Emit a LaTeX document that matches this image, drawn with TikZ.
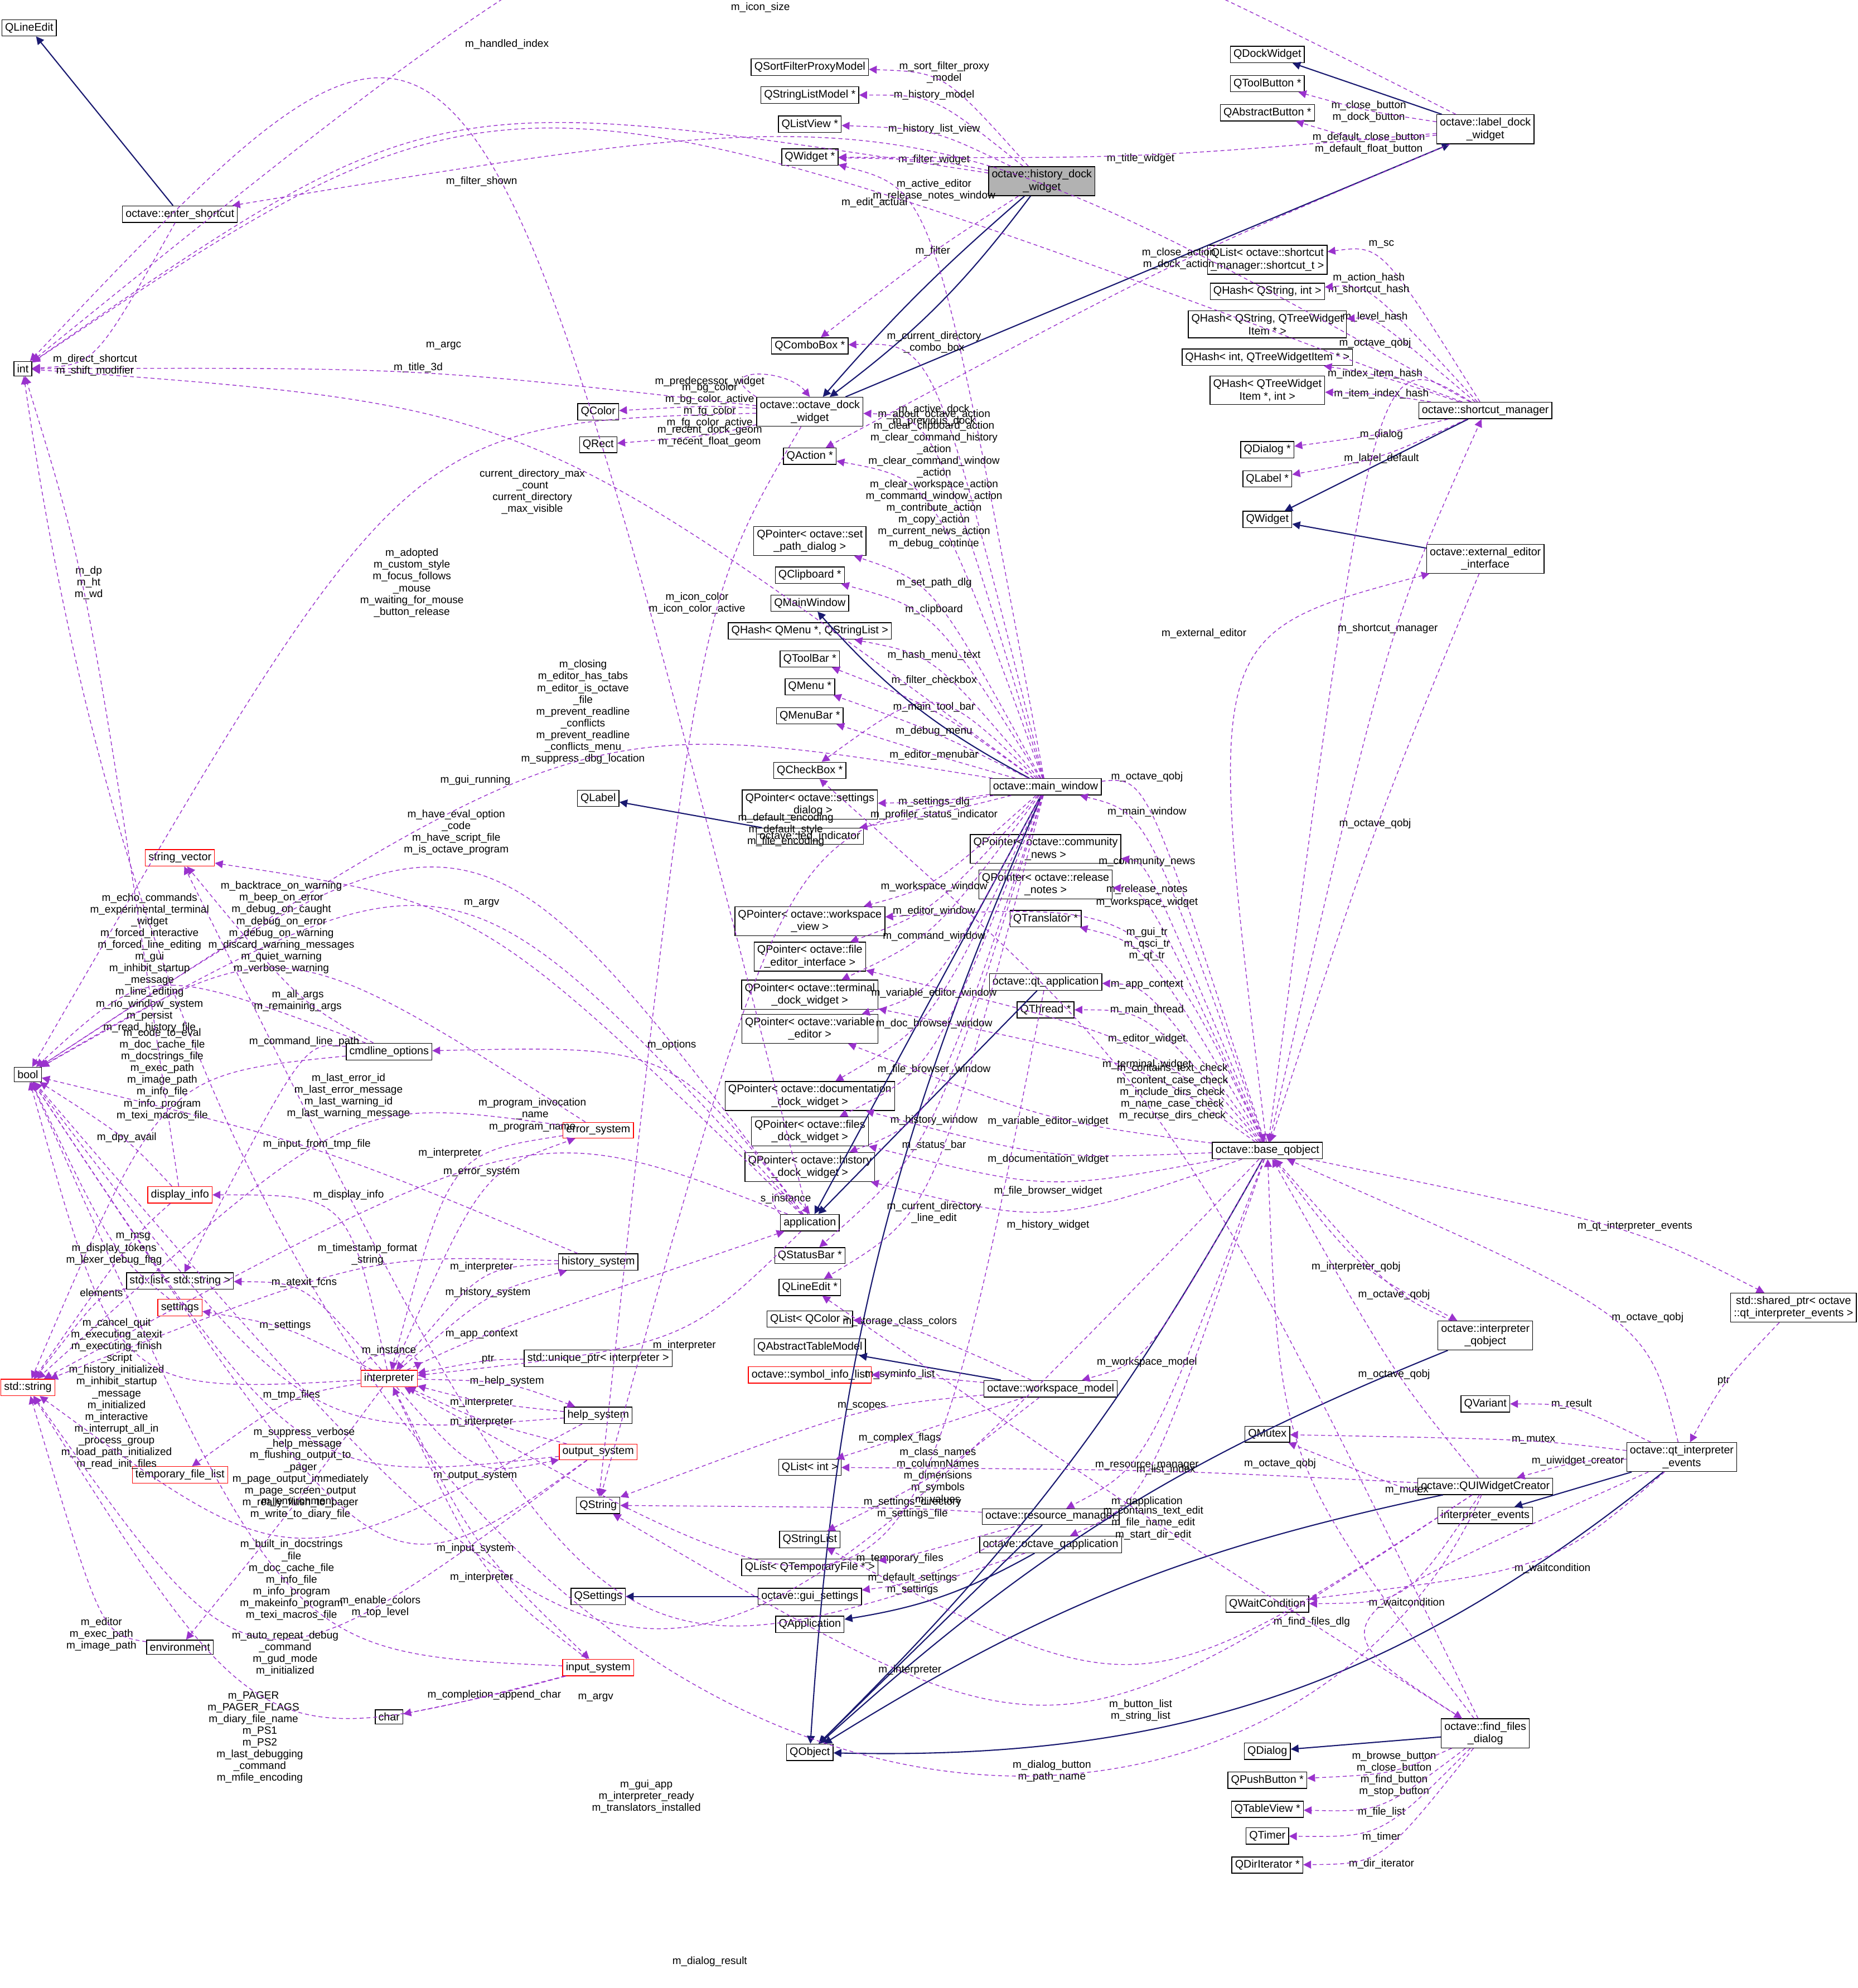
\documentclass[tikz,border=0pt]{standalone}
\usepackage{fontspec}
\setmainfont{Liberation Sans}
\usetikzlibrary{calc,arrows.meta}
\newcommand\nf{\fontsize{5.6}{6.4}\selectfont}
\newcommand\lf{\fontsize{5.4}{6.0}\selectfont}
\definecolor{dk}{HTML}{191970}
\definecolor{pu}{HTML}{9A32CD}
\tikzset{
 cls/.style={draw=black,line width=0.4pt,inner sep=1.6pt,font=\nf,align=center,fill=white},
 rcls/.style={cls,draw=red},
 fcls/.style={cls,fill=gray!60},
 inh/.style={draw=dk,line width=0.6pt,-{Triangle[length=4pt,width=4pt]}},
 dep/.style={draw=pu,dashed,dash pattern=on 2pt off 1.5pt,line width=0.4pt,-{Triangle[length=4pt,width=4pt]}},
 lbl/.style={font=\lf,align=center,inner sep=0pt}
}
\newcommand\dep[4]{\node[lbl] at (#3) {#4};
 \draw[dep] (#1) .. controls (#3) and (#3) .. (#2);}
\newcommand\depq[4]{\node[lbl] at (#3) {#4};
 \draw[dep] (#1) .. controls ($2*(#3)-0.5*(#1)-0.5*(#2)$) .. (#2);}
\begin{document}
\begin{tikzpicture}[x=0.02272cm,y=-0.02272cm]
\useasboundingbox (0,0) rectangle (1466,1569);
% nodes
\node[cls] (QLineEdit) at (23,22) {QLineEdit};
\node[cls] (int) at (18,291) {int};
\node[cls] (bool) at (22,848) {bool};
\node[rcls] (stdstring) at (22,1095) {std::string};
\node[cls] (QSFPM) at (639,53) {QSortFilterProxyModel};
\node[cls] (QSLM) at (639,75) {QStringListModel *};
\node[cls] (QListView) at (639,98) {QListView *};
\node[cls] (QWidgetP) at (639,124) {QWidget *};
\node[fcls] (hdw) at (822,143) {octave::history\_dock\\\_widget};
\node[cls] (enter) at (142,169) {octave::enter\_shortcut};
\node[cls] (QDockWidget) at (1000,43) {QDockWidget};
\node[cls] (QToolButton) at (1000,66) {QToolButton *};
\node[cls] (QAbstractButton) at (1000,89) {QAbstractButton *};
\node[cls] (ldw) at (1172,102) {octave::label\_dock\\\_widget};
\node[cls] (QListSC) at (1000,205) {QList< octave::shortcut\\\_manager::shortcut\_t >};
\node[cls] (QHashSI) at (1000,230) {QHash< QString, int >};
\node[cls] (QHashST) at (1000,256) {QHash< QString, QTreeWidget\\Item * >};
\node[cls] (QHashIT) at (1000,282) {QHash< int, QTreeWidgetItem * >};
\node[cls] (QHashTI) at (1000,308) {QHash< QTreeWidget\\Item *, int >};
\node[cls] (QDialogP) at (1000,355) {QDialog *};
\node[cls] (QLabelP) at (1000,378) {QLabel *};
\node[cls] (QWidget) at (1000,410) {QWidget};
\node[cls] (scm) at (1172,324) {octave::shortcut\_manager};
\node[cls] (eei) at (1172,441) {octave::external\_editor\\\_interface};
\node[cls] (QComboBox) at (639,273) {QComboBox *};
\node[cls] (odw) at (639,325) {octave::octave\_dock\\\_widget};
\node[cls] (QColor) at (472,325) {QColor};
\node[cls] (QRect) at (472,351) {QRect};
\node[cls] (QAction) at (639,360) {QAction *};
\node[cls] (QPspd) at (639,427) {QPointer< octave::set\\\_path\_dialog >};
\node[cls] (QClipboard) at (639,454) {QClipboard *};
\node[cls] (QMainWindow) at (639,476) {QMainWindow};
\node[cls] (QHashMenu) at (639,498) {QHash< QMenu *, QStringList >};
\node[cls] (QToolBar) at (639,520) {QToolBar *};
\node[cls] (QMenu) at (639,542) {QMenu *};
\node[cls] (QMenuBar) at (639,565) {QMenuBar *};
\node[cls] (QCheckBox) at (639,608) {QCheckBox *};
\node[cls] (QPsd) at (639,635) {QPointer< octave::settings\\\_dialog >};
\node[cls] (QLabel) at (472,630) {QLabel};
\node[cls] (led) at (639,660) {octave::led\_indicator};
\node[cls] (mw) at (825,621) {octave::main\_window};
\node[cls] (QPcn) at (825,670) {QPointer< octave::community\\\_news >};
\node[cls] (QPrn) at (825,698) {QPointer< octave::release\\\_notes >};
\node[cls] (QTranslator) at (825,725) {QTranslator *};
\node[cls] (qtapp) at (825,775) {octave::qt\_application};
\node[cls] (QThread) at (825,797) {QThread *};
\node[cls] (QPwv) at (639,727) {QPointer< octave::workspace\\\_view >};
\node[cls] (QPfe) at (639,755) {QPointer< octave::file\\\_editor\_interface >};
\node[cls] (QPtd) at (639,785) {QPointer< octave::terminal\\\_dock\_widget >};
\node[cls] (QPve) at (639,812) {QPointer< octave::variable\\\_editor >};
\node[cls] (QPdd) at (639,865) {QPointer< octave::documentation\\\_dock\_widget >};
\node[cls] (QPfd) at (639,893) {QPointer< octave::files\\\_dock\_widget >};
\node[cls] (QPhd) at (639,921) {QPointer< octave::history\\\_dock\_widget >};
\node[cls] (app) at (639,965) {application};
\node[cls] (QStatusBar) at (639,991) {QStatusBar *};
\node[cls] (QLineEditP) at (639,1016) {QLineEdit *};
\node[cls] (QListColor) at (639,1041) {QList< QColor >};
\node[cls] (QATM) at (639,1063) {QAbstractTableModel};
\node[rcls] (sil) at (639,1085) {octave::symbol\_info\_list};
\node[cls] (QListInt) at (639,1158) {QList< int >};
\node[cls] (QString) at (472,1188) {QString};
\node[cls] (QStringList) at (639,1215) {QStringList};
\node[cls] (QListTF) at (639,1237) {QList< QTemporaryFile * >};
\node[cls] (gs) at (639,1260) {octave::gui\_settings};
\node[cls] (QSettings) at (472,1260) {QSettings};
\node[cls] (QApplication) at (639,1282) {QApplication};
\node[cls] (QObject) at (639,1383) {QObject};
\node[cls] (bq) at (1000,908) {octave::base\_qobject};
\node[cls] (wm) at (829,1096) {octave::workspace\_model};
\node[cls] (rm) at (829,1197) {octave::resource\_manager};
\node[cls] (oqa) at (829,1219) {octave::octave\_qapplication};
\node[cls] (iq) at (1172,1054) {octave::interpreter\\\_qobject};
\node[cls,anchor=east] (sp) at (1465,1032) {std::shared\_ptr< octave\\::qt\_interpreter\_events >};
\node[cls] (QVariant) at (1172,1108) {QVariant};
\node[cls] (QMutex) at (1000,1132) {QMutex};
\node[cls] (qie) at (1327,1150) {octave::qt\_interpreter\\\_events};
\node[cls] (quiw) at (1172,1173) {octave::QUIWidgetCreator};
\node[cls] (ie) at (1172,1196) {interpreter\_events};
\node[cls] (QWait) at (1000,1266) {QWaitCondition};
\node[cls] (ffd) at (1172,1368) {octave::find\_files\\\_dialog};
\node[cls] (QDialog) at (1000,1382) {QDialog};
\node[cls] (QPushButton) at (1000,1405) {QPushButton *};
\node[cls] (QTableView) at (1000,1428) {QTableView *};
\node[cls] (QTimer) at (1000,1449) {QTimer};
\node[cls] (QDirIt) at (1000,1472) {QDirIterator *};
\node[rcls] (sv) at (142,677) {string\_vector};
\node[cls] (clo) at (307,830) {cmdline\_options};
\node[rcls] (es) at (472,892) {error\_system};
\node[rcls] (di) at (142,943) {display\_info};
\node[cls] (hs) at (472,996) {history\_system};
\node[cls] (sl) at (142,1011) {std::list< std::string >};
\node[rcls] (set) at (142,1032) {settings};
\node[rcls] (interp) at (307,1088) {interpreter};
\node[cls] (up) at (472,1072) {std::unique\_ptr< interpreter >};
\node[cls] (help) at (472,1117) {help\_system};
\node[rcls] (os) at (472,1146) {output\_system};
\node[rcls] (tfl) at (142,1164) {temporary\_file\_list};
\node[cls] (env) at (142,1300) {environment};
\node[rcls] (is) at (472,1316) {input\_system};
\node[cls] (char) at (307,1355) {char};
% inheritance
\draw[inh] (ldw) -- (QDockWidget);
\draw[inh] (odw) -- (ldw);
\draw[inh] (hdw) to[bend left=8] (odw);
\draw[inh] (hdw) to[bend right=4] (odw);
\draw[inh] (enter) -- (QLineEdit);
\draw[inh] (scm) -- (QWidget);
\draw[inh] (eei) -- (QWidget);
\draw[inh] (mw) to[bend left=10] (QMainWindow);
\draw[inh] (led) -- (QLabel);
\draw[inh] (mw) -- (app);
\draw[inh] (qtapp) -- (app);
\draw[inh] (mw) to[bend right=10] (QObject);
\draw[inh] (bq) to[bend left=8] (QObject);
\draw[inh] (wm) -- (QATM);
\draw[inh] (gs) -- (QSettings);
\draw[inh] (oqa) to[bend left=10] (QApplication);
\draw[inh] (rm) -- (QObject);
\draw[inh] (quiw) to[bend right=10] (QObject);
\draw[inh] (iq) to[bend right=10] (QObject);
\draw[inh] (qie) -- (ie);
\draw[inh] (qie) to[bend left=20] (QObject);
\draw[inh] (ffd) -- (QDialog);
% dependencies
\dep{hdw}{QSFPM}{745,57}{m\_sort\_filter\_proxy\\\_model}
\dep{hdw}{QSLM}{737,75}{m\_history\_model}
\dep{hdw}{QListView}{737,102}{m\_history\_list\_view}
\dep{hdw}{QWidgetP}{737,126}{m\_filter\_widget}
\dep{hdw}{QComboBox}{736,198}{m\_filter}
\depq{hdw}{int}{380,143}{m\_filter\_shown}
\dep{mw}{QWidgetP}{737,150}{m\_active\_editor\\m\_release\_notes\_window}
\dep{mw}{QComboBox}{737,270}{m\_current\_directory\\\_combo\_box}
\dep{mw}{odw}{737,328}{m\_active\_dock\\m\_previous\_dock}
\dep{mw}{QAction}{737,378}{m\_about\_octave\_action\\m\_clear\_clipboard\_action\\m\_clear\_command\_history\\\_action\\m\_clear\_command\_window\\\_action\\m\_clear\_workspace\_action\\m\_command\_window\_action\\m\_contribute\_action\\m\_copy\_action\\m\_current\_news\_action\\m\_debug\_continue}
\dep{mw}{QPspd}{737,460}{m\_set\_path\_dlg}
\dep{mw}{QClipboard}{737,481}{m\_clipboard}
\dep{mw}{QHashMenu}{737,517}{m\_hash\_menu\_text}
\dep{mw}{QToolBar}{737,558}{m\_main\_tool\_bar}
\dep{mw}{QMenu}{737,577}{m\_debug\_menu}
\dep{mw}{QMenuBar}{737,596}{m\_editor\_menubar}
\dep{mw}{QCheckBox}{737,537}{m\_filter\_checkbox}
\dep{mw}{QPsd}{737,633}{m\_settings\_dlg}
\dep{mw}{led}{737,643}{m\_profiler\_status\_indicator}
\dep{mw}{QPwv}{737,700}{m\_workspace\_window}
\dep{mw}{QPfe}{737,719}{m\_editor\_window}
\dep{mw}{QPtd}{737,739}{m\_command\_window}
\dep{mw}{QPve}{737,784}{m\_variable\_editor\_window}
\dep{mw}{QPdd}{737,808}{m\_doc\_browser\_window}
\dep{mw}{QPfd}{737,844}{m\_file\_browser\_window}
\dep{mw}{QPhd}{737,884}{m\_history\_window}
\dep{mw}{QStatusBar}{737,904}{m\_status\_bar}
\dep{mw}{QLineEditP}{737,957}{m\_current\_directory\\\_line\_edit}
\dep{mw}{QString}{620,655}{m\_default\_encoding\\m\_default\_style\\m\_file\_encoding}
\dep{mw}{bool}{460,562}{m\_closing\\m\_editor\_has\_tabs\\m\_editor\_is\_octave\\\_file\\m\_prevent\_readline\\\_conflicts\\m\_prevent\_readline\\\_conflicts\_menu\\m\_suppress\_dbg\_location}
\depq{mw}{int}{420,388}{current\_directory\_max\\\_count\\current\_directory\\\_max\_visible}
\dep{odw}{QColor}{560,320}{m\_bg\_color\\m\_bg\_color\_active\\m\_fg\_color\\m\_fg\_color\_active}
\dep{odw}{QRect}{560,344}{m\_recent\_dock\_geom\\m\_recent\_float\_geom}
\dep{odw}{int}{330,290}{m\_title\_3d}
\node[lbl] at (560,301) {m\_predecessor\_widget};
\draw[dep] (odw.north west) .. controls (560,290) and (620,290) .. (odw.north);
\dep{odw}{QString}{550,476}{m\_icon\_color\\m\_icon\_color\_active}
\depq{odw}{bool}{325,460}{m\_adopted\\m\_custom\_style\\m\_focus\_follows\\\_mouse\\m\_waiting\_for\_mouse\\\_button\_release}
\dep{ldw}{QToolButton}{1080,88}{m\_close\_button\\m\_dock\_button}
\dep{ldw}{QAbstractButton}{1080,113}{m\_default\_close\_button\\m\_default\_float\_button}
\dep{ldw}{QWidgetP}{900,125}{m\_title\_widget}
\depq{ldw}{int}{600,6}{m\_icon\_size}
\dep{ldw}{QAction}{930,204}{m\_close\_action\\m\_dock\_action}
\dep{scm}{QListSC}{1090,193}{m\_sc}
\dep{scm}{QHashSI}{1080,224}{m\_action\_hash\\m\_shortcut\_hash}
\dep{scm}{QHashST}{1085,250}{m\_level\_hash}
\dep{scm}{QHashIT}{1085,295}{m\_index\_item\_hash}
\dep{scm}{QHashTI}{1090,311}{m\_item\_index\_hash}
\dep{scm}{QDialogP}{1090,343}{m\_dialog}
\dep{scm}{QLabelP}{1090,362}{m\_label\_default}
\dep{scm}{int}{400,35}{m\_handled\_index}
\depq{scm}{enter}{690,160}{m\_edit\_actual}
\dep{scm}{bq}{1085,271}{m\_octave\_qobj}
\dep{enter}{int}{75,288}{m\_direct\_shortcut\\m\_shift\_modifier}
\dep{bq}{scm}{1095,496}{m\_shortcut\_manager}
\dep{bq}{eei}{950,500}{m\_external\_editor}
\dep{bq}{mw}{905,641}{m\_main\_window}
\dep{mw}{bq}{905,613}{m\_octave\_qobj}
\dep{bq}{QPcn}{905,680}{m\_community\_news}
\dep{bq}{QPrn}{905,702}{m\_release\_notes}
\dep{bq}{QPwv}{905,712}{m\_workspace\_widget}
\dep{bq}{QTranslator}{905,745}{m\_gui\_tr\\m\_qsci\_tr\\m\_qt\_tr}
\dep{bq}{qtapp}{905,777}{m\_app\_context}
\dep{bq}{QThread}{905,797}{m\_main\_thread}
\dep{bq}{QPfe}{905,820}{m\_editor\_widget}
\dep{bq}{QPtd}{905,840}{m\_terminal\_widget}
\dep{bq}{QPve}{827,885}{m\_variable\_editor\_widget}
\dep{bq}{QPdd}{827,915}{m\_documentation\_widget}
\dep{bq}{QPfd}{827,940}{m\_file\_browser\_widget}
\dep{bq}{QPhd}{827,967}{m\_history\_widget}
\dep{bq}{iq}{1070,1000}{m\_interpreter\_qobj}
\dep{bq}{sp}{1290,968}{m\_qt\_interpreter\_events}
\dep{bq}{wm}{905,1075}{m\_workspace\_model}
\dep{bq}{rm}{905,1157}{m\_resource\_manager}
\dep{bq}{oqa}{905,1185}{m\_qapplication}
\dep{bq}{bool}{510,1418}{m\_gui\_app\\m\_interpreter\_ready\\m\_translators\_installed}
\dep{eei}{bq}{1085,650}{m\_octave\_qobj}
\dep{iq}{bq}{1100,1022}{m\_octave\_qobj}
\dep{ffd}{bq}{1010,1155}{m\_octave\_qobj}
\dep{qie}{bq}{1300,1040}{m\_octave\_qobj}
\dep{quiw}{bq}{1100,1085}{m\_octave\_qobj}
\dep{sp}{qie}{1360,1090}{ptr}
\dep{qie}{QVariant}{1240,1108}{m\_result}
\dep{qie}{QMutex}{1210,1136}{m\_mutex}
\dep{qie}{quiw}{1245,1153}{m\_uiwidget\_creator}
\dep{qie}{QWait}{1225,1238}{m\_waitcondition}
\dep{qie}{ffd}{1035,1280}{m\_find\_files\_dlg}
\dep{quiw}{QMutex}{1110,1176}{m\_mutex}
\dep{quiw}{QListInt}{920,1160}{m\_list\_index}
\dep{quiw}{QWait}{1110,1265}{m\_waitcondition}
\dep{quiw}{QStringList}{900,1350}{m\_button\_list\\m\_string\_list}
\dep{quiw}{QString}{830,1398}{m\_dialog\_button\\m\_path\_name}
\node[lbl] at (560,1548) {m\_dialog\_result};
\draw[dep] (quiw) .. controls (1000,1560) and (200,1560) .. (int);
\dep{ffd}{QLineEditP}{910,1202}{m\_contains\_text\_edit\\m\_file\_name\_edit\\m\_start\_dir\_edit}
\dep{ffd}{QPushButton}{1100,1400}{m\_browse\_button\\m\_close\_button\\m\_find\_button\\m\_stop\_button}
\dep{ffd}{QTableView}{1090,1430}{m\_file\_list}
\dep{ffd}{QTimer}{1090,1450}{m\_timer}
\dep{ffd}{QDirIt}{1090,1471}{m\_dir\_iterator}
\dep{ffd}{QCheckBox}{925,862}{m\_contains\_text\_check\\m\_content\_case\_check\\m\_include\_dirs\_check\\m\_name\_case\_check\\m\_recurse\_dirs\_check}
\dep{wm}{QListColor}{710,1043}{m\_storage\_class\_colors}
\dep{wm}{sil}{710,1085}{m\_syminfo\_list}
\dep{wm}{QString}{680,1110}{m\_scopes}
\dep{wm}{QListInt}{710,1135}{m\_complex\_flags}
\dep{wm}{QStringList}{740,1165}{m\_class\_names\\m\_columnNames\\m\_dimensions\\m\_symbols\\m\_values}
\dep{rm}{QString}{720,1190}{m\_settings\_directory\\m\_settings\_file}
\dep{rm}{QListTF}{710,1230}{m\_temporary\_files}
\dep{rm}{gs}{720,1250}{m\_default\_settings\\m\_settings}
\dep{qtapp}{interp}{718,1318}{m\_interpreter}
\dep{oqa}{sv}{470,1340}{m\_argv}
\node[lbl] at (620,946) {s\_instance};
\draw[dep] (app.north west) .. controls (600,940) and (620,935) .. (app.north);
\dep{app}{interp}{540,1062}{m\_interpreter}
\dep{app}{clo}{530,825}{m\_options}
\dep{app}{sv}{380,713}{m\_argv}
\dep{app}{bool}{360,657}{m\_have\_eval\_option\\\_code\\m\_have\_script\_file\\m\_is\_octave\_program}
\dep{app}{bool}{375,616}{m\_gui\_running}
\depq{app}{int}{350,273}{m\_argc}
\dep{app}{stdstring}{420,880}{m\_program\_invocation\\\_name\\m\_program\_name}
\dep{clo}{bool}{118,760}{m\_echo\_commands\\m\_experimental\_terminal\\\_widget\\m\_forced\_interactive\\m\_forced\_line\_editing\\m\_gui\\m\_inhibit\_startup\\\_message\\m\_line\_editing\\m\_no\_window\_system\\m\_persist\\m\_read\_history\_file}
\dep{clo}{stdstring}{128,848}{m\_code\_to\_eval\\m\_doc\_cache\_file\\m\_docstrings\_file\\m\_exec\_path\\m\_image\_path\\m\_info\_file\\m\_info\_program\\m\_texi\_macros\_file}
\dep{clo}{sv}{235,790}{m\_all\_args\\m\_remaining\_args}
\dep{clo}{sl}{240,822}{m\_command\_line\_path}
\dep{di}{int}{70,460}{m\_dp\\m\_ht\\m\_wd}
\dep{di}{bool}{100,898}{m\_dpy\_avail}
\dep{di}{stdstring}{105,976}{m\_msg}
\dep{es}{bool}{222,732}{m\_backtrace\_on\_warning\\m\_beep\_on\_error\\m\_debug\_on\_caught\\m\_debug\_on\_error\\m\_debug\_on\_warning\\m\_discard\_warning\_messages\\m\_quiet\_warning\\m\_verbose\_warning}
\dep{es}{stdstring}{275,865}{m\_last\_error\_id\\m\_last\_error\_message\\m\_last\_warning\_id\\m\_last\_warning\_message}
\dep{es}{interp}{355,910}{m\_interpreter}
\dep{hs}{stdstring}{290,990}{m\_timestamp\_format\\\_string}
\dep{hs}{interp}{380,1000}{m\_interpreter}
\dep{hs}{bool}{250,903}{m\_input\_from\_tmp\_file}
\dep{interp}{es}{380,925}{m\_error\_system}
\dep{interp}{di}{275,943}{m\_display\_info}
\dep{interp}{hs}{385,1020}{m\_history\_system}
\dep{interp}{sl}{240,1012}{m\_atexit\_fcns}
\dep{interp}{set}{225,1046}{m\_settings}
\node[lbl] at (307,1066) {m\_instance};
\draw[dep] (interp.north west) .. controls (285,1065) and (330,1065) .. (interp.north east);
\dep{interp}{tfl}{230,1101}{m\_tmp\_files}
\dep{interp}{help}{400,1090}{m\_help\_system}
\dep{interp}{os}{375,1165}{m\_output\_system}
\dep{interp}{is}{375,1222}{m\_input\_system}
\dep{interp}{env}{235,1185}{m\_environment}
\dep{interp}{app}{380,1053}{m\_app\_context}
\dep{interp}{bool}{92,1100}{m\_cancel\_quit\\m\_executing\_atexit\\m\_executing\_finish\\\_script\\m\_history\_initialized\\m\_inhibit\_startup\\\_message\\m\_initialized\\m\_interactive\\m\_interrupt\_all\_in\\\_process\_group\\m\_load\_path\_initialized\\m\_read\_init\_files}
\dep{up}{interp}{385,1073}{ptr}
\dep{help}{interp}{380,1107}{m\_interpreter}
\dep{help}{stdstring}{230,1247}{m\_built\_in\_docstrings\\\_file\\m\_doc\_cache\_file\\m\_info\_file\\m\_info\_program\\m\_makeinfo\_program\\m\_texi\_macros\_file}
\dep{help}{bool}{240,1135}{m\_suppress\_verbose\\\_help\_message}
\dep{os}{interp}{380,1122}{m\_interpreter}
\dep{os}{bool}{237,1172}{m\_flushing\_output\_to\\\_pager\\m\_page\_output\_immediately\\m\_page\_screen\_output\\m\_really\_flush\_to\_pager\\m\_write\_to\_diary\_file}
\dep{os}{stdstring}{200,1348}{m\_PAGER\\m\_PAGER\_FLAGS\\m\_diary\_file\_name}
\dep{is}{interp}{380,1245}{m\_interpreter}
\dep{is}{char}{390,1338}{m\_completion\_append\_char}
\dep{is}{stdstring}{205,1385}{m\_PS1\\m\_PS2\\m\_last\_debugging\\\_command\\m\_mfile\_encoding}
\dep{is}{bool}{225,1305}{m\_auto\_repeat\_debug\\\_command\\m\_gud\_mode\\m\_initialized}
\dep{os}{bool}{300,1268}{m\_enable\_colors\\m\_top\_level}
\dep{env}{stdstring}{80,1290}{m\_editor\\m\_exec\_path\\m\_image\_path}
\dep{set}{bool}{90,990}{m\_display\_tokens\\m\_lexer\_debug\_flag}
\dep{sl}{stdstring}{80,1020}{elements}
\end{tikzpicture}
\end{document}
